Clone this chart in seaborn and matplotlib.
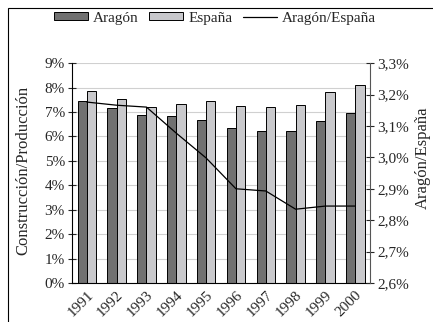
import numpy as np
import pandas as pd
import seaborn as sns
import matplotlib.pyplot as plt
import matplotlib.transforms as mtransforms
from matplotlib.patches import Patch, Rectangle
from matplotlib.lines import Line2D
from matplotlib.ticker import FuncFormatter

years = ['1991', '1992', '1993', '1994', '1995', '1996', '1997', '1998', '1999', '2000']
aragon = [7.45, 7.15, 6.88, 6.82, 6.68, 6.35, 6.22, 6.22, 6.62, 6.95]
espana = [7.85, 7.55, 7.20, 7.32, 7.45, 7.25, 7.20, 7.30, 7.80, 8.10]
ratio = [3.176, 3.166, 3.16, 3.077, 2.998, 2.90, 2.893, 2.835, 2.845, 2.845]

sns.set_style('white')
plt.rcParams['font.family'] = ['Liberation Serif', 'DejaVu Serif']

df = pd.DataFrame({'year': years * 2,
                   'valor': aragon + espana,
                   'serie': ['Aragón'] * len(years) + ['España'] * len(years)})
df_ratio = pd.DataFrame({'year': years, 'ratio': ratio})

fig = plt.figure(figsize=(4.33, 3.22), dpi=100)
ax = fig.add_axes([0.166, 0.121, 0.689, 0.683])

colors = {'Aragón': '#717171', 'España': '#c8c8cc'}
sns.barplot(data=df, x='year', y='valor', hue='serie', palette=colors,
            width=0.62, edgecolor='black', linewidth=0.7, ax=ax, legend=False)

ax2 = ax.twinx()
sns.lineplot(data=df_ratio, x='year', y='ratio', color='black', linewidth=0.9,
             ax=ax2, legend=False)

# left axis
ax.set_ylim(0, 9)
ax.set_yticks(range(0, 10))
ax.yaxis.set_major_formatter(FuncFormatter(lambda v, p: '%d%%' % v))
ax.yaxis.grid(True, color='#d0d0d0', linewidth=0.8)
ax.set_axisbelow(True)
ax.set_xlim(-0.5, len(years) - 0.5)
ax.set_xlabel('')
ax.set_ylabel('Construcción/Producción', fontsize=12)
ax.yaxis.set_label_coords(-0.135, 0.51)
ax.set_xticks(range(len(years)))
ax.set_xticklabels(years, rotation=45, ha='right', rotation_mode='anchor', fontsize=11)
shift = mtransforms.ScaledTranslation(3 / 100, 0, fig.dpi_scale_trans)
for lab in ax.get_xticklabels():
    lab.set_transform(lab.get_transform() + shift)
ax.set_xticks(np.arange(-0.5, len(years)), minor=True)
ax.tick_params(axis='x', which='major', length=0, pad=4)
ax.tick_params(axis='x', which='minor', length=7, direction='inout', width=0.8)
ax.tick_params(axis='y', length=6, direction='inout', width=0.8, labelsize=11, pad=2)
for s in ['top', 'right']:
    ax.spines[s].set_visible(False)
for s in ['left', 'bottom']:
    ax.spines[s].set_color('black')
    ax.spines[s].set_linewidth(0.8)

# right axis
ax2.set_ylim(2.6, 3.3)
ax2.set_yticks(np.arange(2.6, 3.31, 0.1))
ax2.yaxis.set_major_formatter(FuncFormatter(lambda v, p: ('%.1f%%' % v).replace('.', ',')))
ax2.set_ylabel('Aragón/España', fontsize=12)
ax2.yaxis.set_label_coords(1.15, 0.57)
ax2.tick_params(axis='y', length=6, direction='inout', width=0.8, labelsize=11, pad=2)
for s in ['top', 'left', 'bottom']:
    ax2.spines[s].set_visible(False)
ax2.spines['right'].set_color('#555555')
ax2.spines['right'].set_linewidth(0.8)

handles = [Patch(facecolor=colors['Aragón'], edgecolor='black', linewidth=0.7, label='Aragón'),
           Patch(facecolor=colors['España'], edgecolor='black', linewidth=0.7, label='España'),
           Line2D([], [], color='black', linewidth=0.9, label='Aragón/España')]
fig.legend(handles=handles, loc='center', bbox_to_anchor=(0.497, 0.944), ncol=3,
           frameon=False, fontsize=11, handlelength=2.2, handleheight=0.35,
           columnspacing=0.7, handletextpad=0.35)

# outer frame (cut off at right and bottom like the reference)
fig.patches.append(Rectangle((8 / 433, -0.1), 1.2, 1 - 8 / 322 + 0.1,
                             transform=fig.transFigure, fill=False,
                             edgecolor='black', linewidth=0.8))

fig.savefig('out.png', dpi=100)
